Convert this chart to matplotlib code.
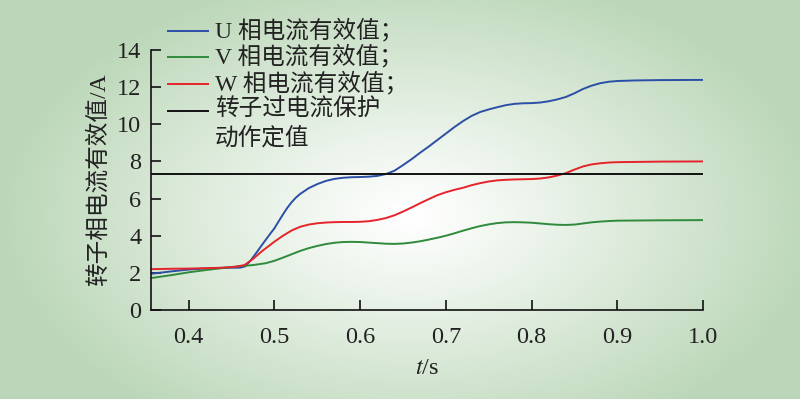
import numpy as np
import matplotlib
matplotlib.use("Agg")
import matplotlib.pyplot as plt
from matplotlib.lines import Line2D

# ---------------- data ----------------
t_u = [0.356, 0.38, 0.40, 0.42, 0.44, 0.46, 0.466, 0.472, 0.48, 0.487, 0.495, 0.50, 0.505, 0.51,
       0.515, 0.52, 0.525, 0.53, 0.54, 0.55, 0.56, 0.57, 0.58, 0.59, 0.60, 0.61, 0.62, 0.63, 0.64,
       0.65, 0.66, 0.67, 0.68, 0.69, 0.70, 0.71, 0.72, 0.73, 0.74, 0.75, 0.76, 0.77, 0.78, 0.79,
       0.80, 0.81, 0.82, 0.83, 0.84, 0.85, 0.86, 0.87, 0.88, 0.89, 0.90, 0.92, 0.95, 1.0]
i_u = [1.95, 2.08, 2.18, 2.24, 2.27, 2.28, 2.35, 2.65, 3.15, 3.6, 4.1, 4.4, 4.78, 5.15,
       5.5, 5.8, 6.05, 6.25, 6.56, 6.78, 6.95, 7.06, 7.12, 7.15, 7.16, 7.18, 7.22, 7.32, 7.5,
       7.8, 8.12, 8.47, 8.8, 9.15, 9.5, 9.85, 10.17, 10.45, 10.66, 10.8, 10.92, 11.03, 11.1, 11.13,
       11.14, 11.17, 11.24, 11.34, 11.47, 11.67, 11.9, 12.08, 12.21, 12.29, 12.33, 12.36, 12.38, 12.39]

t_v = [0.356, 0.38, 0.40, 0.42, 0.44, 0.46, 0.475, 0.49, 0.50, 0.51, 0.52, 0.53, 0.54, 0.55,
       0.56, 0.57, 0.58, 0.59, 0.60, 0.61, 0.62, 0.63, 0.64, 0.65, 0.66, 0.67, 0.68, 0.69, 0.70,
       0.71, 0.72, 0.73, 0.74, 0.75, 0.76, 0.77, 0.78, 0.79, 0.80, 0.81, 0.82, 0.83, 0.84, 0.85,
       0.86, 0.87, 0.88, 0.89, 0.90, 0.95, 1.0]
i_v = [1.72, 1.88, 2.03, 2.15, 2.26, 2.36, 2.42, 2.52, 2.65, 2.82, 3.0, 3.18, 3.33, 3.45,
       3.55, 3.62, 3.66, 3.67, 3.66, 3.63, 3.6, 3.57, 3.56, 3.58, 3.63, 3.7, 3.79, 3.89, 4.0,
       4.13, 4.27, 4.4, 4.52, 4.61, 4.68, 4.72, 4.73, 4.72, 4.7, 4.66, 4.62, 4.59, 4.58, 4.6,
       4.66, 4.72, 4.76, 4.79, 4.81, 4.83, 4.84]

t_w = [0.356, 0.38, 0.40, 0.42, 0.44, 0.455, 0.465, 0.475, 0.485, 0.50, 0.51, 0.52, 0.53, 0.54,
       0.55, 0.56, 0.57, 0.58, 0.59, 0.60, 0.61, 0.62, 0.63, 0.64, 0.65, 0.66, 0.67, 0.68, 0.69,
       0.70, 0.71, 0.72, 0.73, 0.74, 0.75, 0.76, 0.77, 0.78, 0.79, 0.80, 0.81, 0.82, 0.83, 0.84,
       0.85, 0.86, 0.87, 0.88, 0.89, 0.90, 0.95, 1.0]
i_w = [2.2, 2.22, 2.23, 2.25, 2.28, 2.33, 2.42, 2.75, 3.15, 3.68, 4.0, 4.28, 4.48, 4.6,
       4.67, 4.71, 4.73, 4.74, 4.74, 4.75, 4.78, 4.85, 4.95, 5.1, 5.3, 5.52, 5.75, 5.97, 6.18,
       6.34, 6.47, 6.58, 6.72, 6.83, 6.92, 6.98, 7.01, 7.03, 7.04, 7.05, 7.08, 7.14, 7.24, 7.37,
       7.56, 7.73, 7.84, 7.9, 7.94, 7.96, 7.99, 8.0]

threshold = 7.35
x_range = [0.356, 1.0]

x_ticks = [0.4, 0.5, 0.6, 0.7, 0.8, 0.9, 1.0]
x_ticklabels = ["0.4", "0.5", "0.6", "0.7", "0.8", "0.9", "1.0"]
y_ticks = [0, 2, 4, 6, 8, 10, 12, 14]

legend_labels = ["U 相电流有效值；", "V 相电流有效值；", "W 相电流有效值；", "转子过电流保护\n动作定值"]
colors = ["#2b4ea6", "#2f8a3c", "#e5232a", "#111111"]

FAM = ["Liberation Serif", "Noto Sans CJK SC"]
plt.rcParams["font.family"] = FAM
plt.rcParams["mathtext.fontset"] = "stix"

W, H = 800, 399
fig = plt.figure(figsize=(W / 100, H / 100), dpi=100)

# background radial gradient
bg = fig.add_axes([0, 0, 1, 1], zorder=-10)
yy, xx = np.mgrid[0:H, 0:W]
d = np.sqrt(((xx - 410) / 430.0) ** 2 + ((yy - 215) / 260.0) ** 2)
f = np.clip(d / 0.95, 0, 1) ** 1.1
white = np.array([1.0, 1.0, 1.0])
green = np.array([0.735, 0.843, 0.722])
img = white[None, None, :] * (1 - f[..., None]) + green[None, None, :] * f[..., None]
bg.imshow(img, aspect="auto", extent=[0, W, H, 0])
bg.axis("off")

ax = fig.add_axes([151 / W, 1 - 310 / H, (703 - 151) / W, (310 - 50) / H])
ax.patch.set_alpha(0)

lw = 1.4
ax.plot(t_u, i_u, color=colors[0], lw=lw)
ax.plot(t_v, i_v, color=colors[1], lw=lw)
ax.plot(t_w, i_w, color=colors[2], lw=lw)
ax.plot(x_range, [threshold, threshold], color=colors[3], lw=lw)

ax.set_xlim(x_range)
ax.set_ylim(0, 14)
ax.set_xticks(x_ticks)
ax.set_xticklabels(x_ticklabels)
ax.set_yticks(y_ticks)
for s in ["top", "right"]:
    ax.spines[s].set_visible(False)
for s in ["left", "bottom"]:
    ax.spines[s].set_linewidth(1.2)
    ax.spines[s].set_color("#111111")
ax.tick_params(direction="in", length=7, width=1.2, colors="#111111", labelsize=17.5,
               labelcolor="#222222")
ax.tick_params(axis="x", pad=12)
ax.tick_params(axis="y", pad=7)

ax.set_ylabel("转子相电流有效值/A", fontsize=17, color="#222222", labelpad=5)
fig.text(427 / W, 1 - 368 / H, r"$t$/s", fontsize=17.5, color="#222222",
         ha="center", va="center")

# legend (manual, in figure pixels)
rows = [31, 57, 84, 111]
for lab, c, yr in zip(legend_labels, colors, rows):
    fig.add_artist(Line2D([168 / W, 208 / W], [1 - yr / H, 1 - yr / H], color=c, lw=1.4))
    fig.text(215 / W, 1 - (yr - 12.5) / H, lab, fontsize=17, color="#222222",
             ha="left", va="top", linespacing=1.4)

fig.savefig("out.png", dpi=100)
